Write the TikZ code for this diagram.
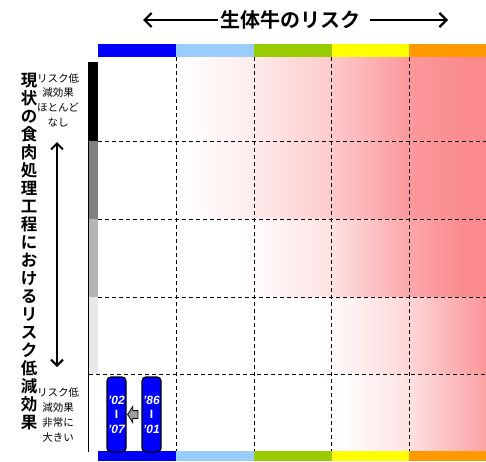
\documentclass[tikz,border=0pt]{standalone}
\usepackage{fontspec}
\setmainfont{Noto Sans CJK JP}[BoldFont={Noto Sans CJK JP Bold}]
\newfontfamily\yrfont{Liberation Sans}
\usetikzlibrary{arrows.meta,shapes.arrows,calc}

\definecolor{rblue}{RGB}{0,0,255}
\definecolor{rsky}{RGB}{153,204,255}
\definecolor{rgreen}{RGB}{153,204,0}
\definecolor{ryellow}{RGB}{255,255,0}
\definecolor{rorange}{RGB}{255,153,0}
\definecolor{riskpink}{RGB}{250,138,142}
\definecolor{bardark}{RGB}{128,128,128}
\definecolor{barmid}{RGB}{180,180,180}
\definecolor{barlight}{RGB}{232,232,232}

% risk gradient per row
\pgfdeclarehorizontalshading{rowtop}{100bp}{color(0bp)=(white); color(35.6bp)=(white); color(45.1bp)=(riskpink!17!white); color(55.2bp)=(riskpink!46!white); color(65.1bp)=(riskpink!88!white); color(72.9bp)=(riskpink); color(100bp)=(riskpink)}
\pgfdeclarehorizontalshading{rowmid}{100bp}{color(0bp)=(white); color(43.3bp)=(white); color(55bp)=(riskpink!25!white); color(65.1bp)=(riskpink!76!white); color(72.3bp)=(riskpink); color(100bp)=(riskpink)}
\pgfdeclarehorizontalshading{rowlow}{100bp}{color(0bp)=(white); color(53.6bp)=(white); color(65.1bp)=(riskpink!35!white); color(75bp)=(riskpink!90!white); color(100bp)=(riskpink!90!white)}
\pgfdeclarehorizontalshading{rowbot}{100bp}{color(0bp)=(white); color(56.2bp)=(white); color(65.1bp)=(riskpink!25!white); color(75bp)=(riskpink!80!white); color(100bp)=(riskpink!80!white)}

\tikzset{
  griddash/.style={line width=1pt,dash pattern=on 4pt off 3pt},
  note/.style={font=\fontsize{10.5}{14.7}\selectfont,align=center,inner sep=0pt},
  yrbox/.style={draw=black,line width=1.3pt,fill=rblue,rounded corners=4pt,minimum width=19pt,minimum height=75pt,inner sep=0pt,text=white,align=center,font=\yrfont\bfseries\itshape\fontsize{12}{14.5}\selectfont}
}

\begin{document}
\begin{tikzpicture}[x=1pt,y=-1pt,>={Straight Barb[length=7pt,width=14pt]}]
\useasboundingbox (0,0) rectangle (486,461);
% shaded field
\shade[shading=rowtop] (98,57) rectangle (486,219);
\shade[shading=rowmid] (98,219) rectangle (486,297);
\shade[shading=rowlow] (98,297) rectangle (486,374);
\shade[shading=rowbot] (98,374) rectangle (486,451);
% left bar
\foreach \a/\b/\c in {62/141/black,141/219/bardark,219/297/barmid,297/374/barlight}
\fill[\c] (88,\a) rectangle (98,\b);
\draw[line width=1.5pt] (88.5,62)--(88.5,452);
% grid
\foreach \x in {176,254,331,409}
\draw[griddash] (\x,57)--(\x,451);
\foreach \y/\s in {141/98,219/98,297/98,374/89}
\draw[griddash] (\s,\y)--(486,\y);
% colour bars
\foreach \a/\b/\c in {98/176/rblue,176/254/rsky,254/332/rgreen,332/409/ryellow,409/486/rorange}
{\fill[\c] (\a,44) rectangle (\b,57);
 \fill[\c] (\a,451) rectangle (\b,461);}
% title
\node[font=\bfseries\fontsize{20}{24}\selectfont,inner sep=2pt] (risk) at (290,20) {生体牛のリスク};
\coordinate (rl) at (143,20);
\coordinate (rr) at (448,20);
\draw[->,line width=2.2pt] (risk.west)--(rl);
\draw[->,line width=2.2pt] ([xshift=8pt]risk.east)--(rr);
% left side
\node[font=\bfseries\fontsize{16.5}{18}\selectfont,align=center,inner sep=0pt] (proc) at (29,252)
{現\\状\\の\\食\\肉\\処\\理\\工\\程\\に\\お\\け\\る\\リ\\ス\\ク\\低\\減\\効\\果};
\node[note] (lownote) at (58,100) {リスク低\\減効果\\ほとんど\\なし};
\node[note] (highnote) at (58,415) {リスク低\\減効果\\非常に\\大きい};
\coordinate (at) at (57,142);
\coordinate (ab) at (57,367);
\draw[<->,line width=2pt,>={Straight Barb[length=6pt,width=12pt]}] (at)--(ab);
% years
\node[yrbox] (yrnew) at (116.5,414.5) {’02\\\textup{I}\\’07};
\node[yrbox] (yrold) at (151.5,414.5) {’86\\\textup{I}\\’01};
\node[single arrow,shape border rotate=180,draw=black,line width=0.8pt,fill=gray!75,inner sep=3.5pt,minimum height=10pt,single arrow head extend=4pt,single arrow tip angle=115]
  (back) at ($(yrnew.east)!0.5!(yrold.west)$) {};
\end{tikzpicture}
\end{document}
